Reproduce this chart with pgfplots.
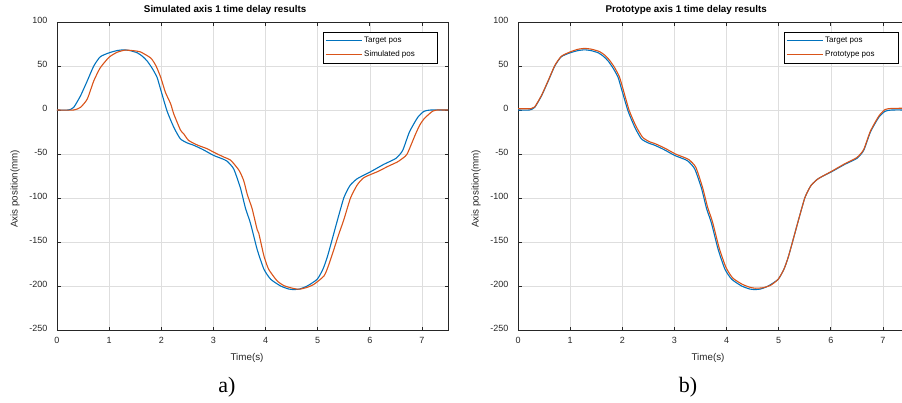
\documentclass[border=0pt]{standalone}
\usepackage{fontspec}
\setmainfont{Liberation Sans}
\newfontfamily\capfont{Liberation Serif}
\usepackage{pgfplots}
\usepackage{pgfplotstable}
\pgfplotsset{compat=1.18}

\definecolor{mblue}{RGB}{0,114,189}
\definecolor{morange}{RGB}{217,83,25}
\definecolor{axgray}{RGB}{38,38,38}

% target trajectory (same in both panels)
\pgfplotstableread{
t v
0 0
0.22 0
0.32 3
0.45 16
0.58 33
0.705 50
0.83 60.5
1.0 65
1.15 67.5
1.28 68.4
1.4 67.5
1.54 65
1.64 61
1.73 55.6
1.83 47
1.92 37
1.98 25
2.11 -1
2.24 -19.6
2.365 -32.7
2.5 -37.5
2.62 -40
2.8 -45
3.0 -51.5
3.15 -55
3.26 -58
3.39 -67
3.52 -89
3.615 -111.6
3.71 -128.5
3.84 -158.6
3.97 -181
4.1 -192.4
4.29 -200
4.45 -203.5
4.54 -204
4.65 -203.5
4.8 -200
4.99 -192.4
5.1 -181
5.19 -166
5.38 -125
5.5 -100
5.57 -91
5.63 -85
5.76 -78
6.02 -70
6.27 -61.7
6.5 -55
6.63 -46
6.76 -25
6.92 -8.3
7.04 -1.5
7.17 0
7.5 0
}\target

% simulated response (panel a)
\pgfplotstableread{
t v
0 0
0.32 0
0.45 3
0.58 12.4
0.705 33
0.83 48
1.0 60
1.15 65.5
1.3 68
1.45 67.5
1.6 66
1.8 59
1.9 50
1.99 37
2.08 20
2.18 7
2.24 -4.5
2.37 -23
2.43 -27
2.525 -34.6
2.7 -40
2.88 -44
3.0 -47.8
3.2 -53.5
3.33 -57
3.49 -68.4
3.58 -80
3.65 -96
3.74 -111.6
3.84 -136
3.87 -140
3.97 -166
4.06 -181
4.22 -194
4.35 -199.5
4.48 -202
4.6 -203.5
4.67 -203.5
4.8 -201.5
4.93 -198
5.12 -188.7
5.2 -178
5.31 -158.6
5.4 -142
5.5 -125
5.63 -100
5.76 -85
5.89 -76.7
6.15 -70
6.35 -64
6.53 -59
6.65 -54
6.72 -49.6
6.88 -27
6.96 -17
7.04 -10
7.2 -1.5
7.3 0
7.5 0
}\simulated

% prototype response (panel b)
\pgfplotstableread{
t v
0 1.5
0.25 1.5
0.32 3.5
0.45 16.5
0.58 33.5
0.705 50.5
0.83 61
1.0 66
1.15 69
1.28 70
1.4 69.2
1.56 66.5
1.66 62.5
1.75 57
1.85 48.5
1.94 38.5
2.0 27
2.13 0
2.26 -18
2.39 -31
2.52 -36
2.64 -38.5
2.82 -43.5
3.02 -50
3.17 -53.5
3.28 -56.5
3.41 -65
3.54 -88
3.635 -110
3.73 -127
3.86 -157
3.99 -179
4.12 -191
4.3 -198
4.45 -201.5
4.55 -202.5
4.7 -202
4.85 -199
4.99 -192.4
5.1 -181
5.19 -166
5.38 -125
5.5 -100
5.57 -91
5.63 -85
5.76 -78
6.02 -69.5
6.27 -61
6.5 -54
6.63 -45
6.76 -24
6.92 -7
7.04 0.5
7.17 1.8
7.5 2
}\prototype

\pgfplotsset{
  delayaxis/.style={
    scale only axis, width=391pt, height=308pt,
    xmin=0, xmax=7.5, ymin=-250, ymax=100,
    xtick={0,1,...,7}, ytick={-250,-200,...,100},
    grid=major, grid style={line width=0.6pt, black!13},
    axis line style={line width=0.7pt, axgray},
    major tick style={line width=0.7pt, axgray},
    major tick length=3.5pt, tick align=inside,
    /pgf/number format/assume math mode=true,
    tick label style={font=\fontsize{9}{10}\selectfont, text=axgray},
    xticklabel style={yshift=-4pt},
    yticklabel style={xshift=-6pt, yshift=2pt},
    title style={font=\fontsize{9.8}{11}\selectfont\bfseries,
      at={(axis description cs:0.43,1.0107)}, anchor=base},
    xlabel style={font=\fontsize{9.8}{11}\selectfont, text=axgray,
      at={(axis description cs:0.486,-0.099)}, anchor=base},
    ylabel style={font=\fontsize{9.8}{11}\selectfont, text=axgray,
      at={(axis description cs:-0.1074,0.458)}, anchor=center},
    xlabel={Time(s)}, ylabel={Axis position(mm)},
    legend style={at={(axis description cs:1,1)}, anchor=north east,
      xshift=-10pt, yshift=-10pt, line width=0.6pt,
      font=\fontsize{8}{9}\selectfont, inner xsep=1.5pt, inner ysep=3pt,
      row sep=2.5pt, cells={anchor=west}},
    every axis plot/.append style={line width=1.1pt, smooth, tension=0.35},
  },
  bluelegend/.style={legend image code/.code={\draw[draw=mblue, line width=1.1pt] (0pt,0pt) -- (36pt,0pt);}},
  orangelegend/.style={legend image code/.code={\draw[draw=morange, line width=1.1pt] (0pt,0pt) -- (36pt,0pt);}},
}

\begin{document}
\begin{tikzpicture}
\useasboundingbox (0,0) rectangle (902pt,-403pt);

\begin{axis}[delayaxis, at={(57pt,-330pt)}, anchor=south west,
  title={Simulated axis 1 time delay results}]
  \addplot[mblue, bluelegend] table[x=t, y=v] {\target};
  \addlegendentry{\makebox[70pt][l]{Target pos}}
  \addplot[morange, orangelegend] table[x=t, y=v] {\simulated};
  \addlegendentry{\makebox[70pt][l]{Simulated pos}}
\end{axis}

\begin{axis}[delayaxis, at={(518pt,-330pt)}, anchor=south west,
  title={Prototype axis 1 time delay results}]
  \addplot[mblue, bluelegend] table[x=t, y=v] {\target};
  \addlegendentry{\makebox[70pt][l]{Target pos}}
  \addplot[morange, orangelegend] table[x=t, y=v] {\prototype};
  \addlegendentry{\makebox[70pt][l]{Prototype pos}}
\end{axis}

\node[font=\capfont\fontsize{22}{24}\selectfont, anchor=base] at (227pt,-392pt) {a)};
\node[font=\capfont\fontsize{22}{24}\selectfont, anchor=base] at (688pt,-392pt) {b)};
\end{tikzpicture}
\end{document}
